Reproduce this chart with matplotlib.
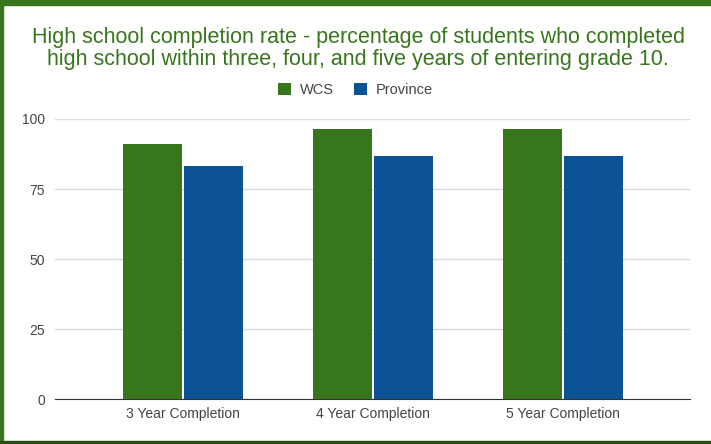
import matplotlib.pyplot as plt
import matplotlib.patches as mpatches
import numpy as np

categories = ["3 Year Completion", "4 Year Completion", "5 Year Completion"]
wcs = [91.1, 96.4, 96.3]
province = [83.2, 86.8, 86.9]
series_names = ["WCS", "Province"]

green = "#38761d"
blue = "#0b5394"

plt.rcParams['font.family'] = ['Liberation Sans', 'DejaVu Sans']

fig = plt.figure(figsize=(7.11, 4.44), dpi=100)
ax = fig.add_axes([0.077, 0.101, 0.893, 0.631])

x = np.arange(len(categories))
w = 0.31
ax.bar(x - w / 2 - 0.005, wcs, w, color=green, label=series_names[0], zorder=3)
ax.bar(x + w / 2 + 0.005, province, w, color=blue, label=series_names[1], zorder=3)

ax.set_xlim(-0.674, 2.668)
ax.set_ylim(0, 100)
ax.set_yticks([0, 25, 50, 75, 100])
ax.set_xticks(x)
ax.set_xticklabels(categories)
ax.tick_params(axis='both', length=0, labelsize=10, colors='#444444')
ax.tick_params(axis='y', pad=7)
ax.tick_params(axis='x', pad=6)
ax.grid(axis='y', color='#d9d9d9', linewidth=1, zorder=0)
for s in ['top', 'right', 'left']:
    ax.spines[s].set_visible(False)
ax.spines['bottom'].set_color('#333333')
ax.spines['bottom'].set_zorder(4)

fig.text(0.504, 0.89, "High school completion rate - percentage of students who completed\n"
         "high school within three, four, and five years of entering grade 10.",
         ha='center', va='center', fontsize=15.5, color=green, linespacing=1.08)

fig.legend(loc='center', bbox_to_anchor=(0.5, 0.797), ncol=2, frameon=False,
           fontsize=10.5, handlelength=0.9, handleheight=0.9, columnspacing=1.4,
           handletextpad=0.6, labelcolor='#444444')

# green frame around the chart
fig.patches.append(mpatches.Rectangle((0, 1 - 5 / 444), 1, 5 / 444, transform=fig.transFigure,
                                      color=green, zorder=0))
fig.patches.append(mpatches.Rectangle((0, 0), 3 / 711, 1, transform=fig.transFigure,
                                      color=green, zorder=0))
fig.patches.append(mpatches.Rectangle((0, 0), 1, 3 / 444, transform=fig.transFigure,
                                      color='#274e13', zorder=0))

fig.savefig("out.png", dpi=100)
